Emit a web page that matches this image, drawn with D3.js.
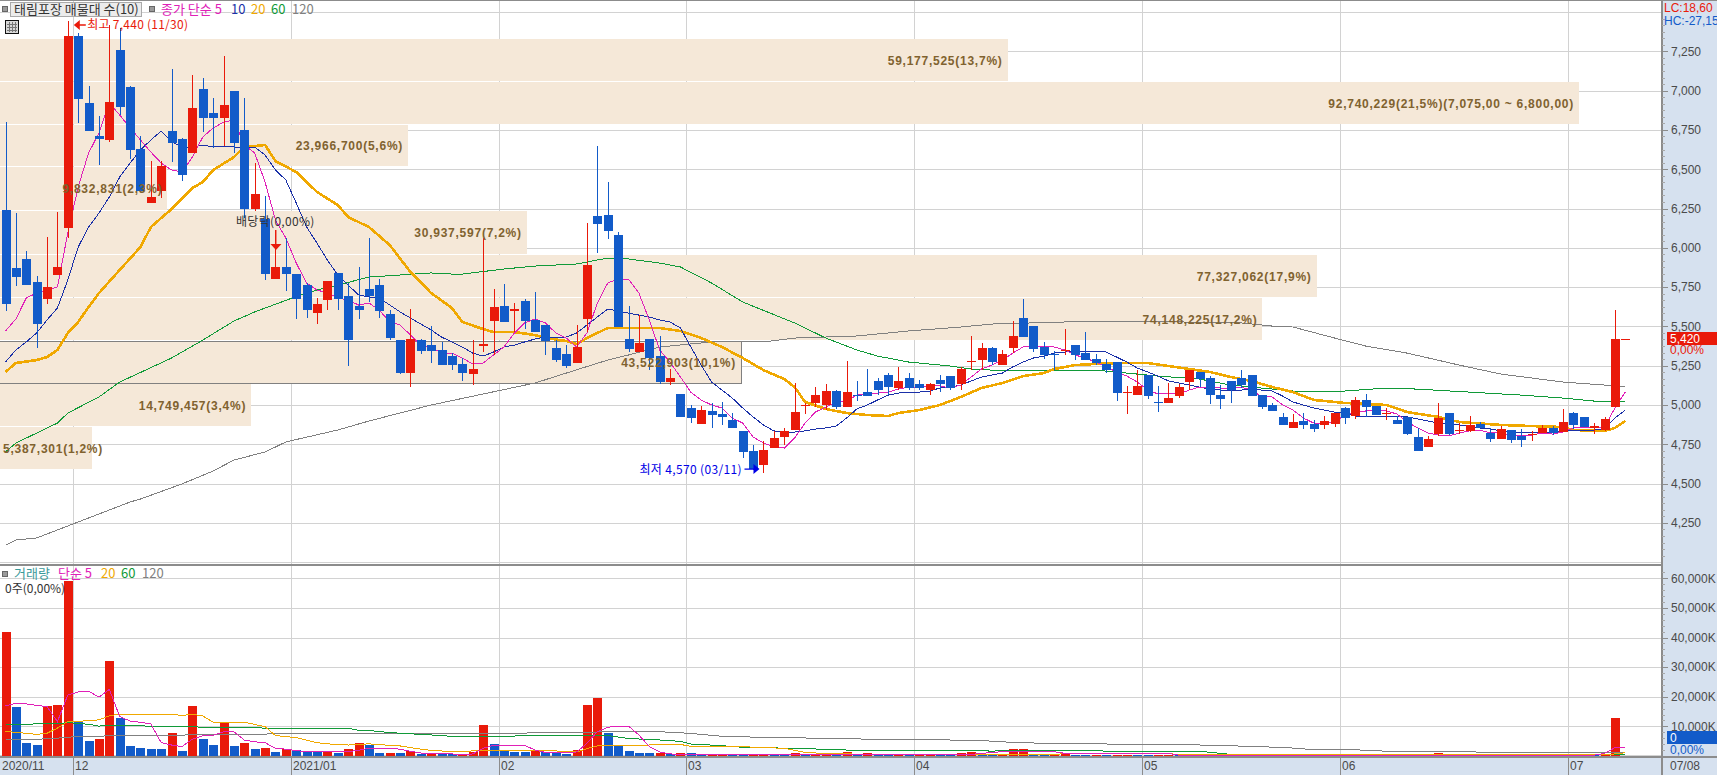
<!DOCTYPE html>
<html><head><meta charset="utf-8">
<script src="https://cdn.jsdelivr.net/npm/d3@7"></script>
<style>
html,body{margin:0;padding:0;background:#fff;overflow:hidden}
svg{display:block}
text{font-family:"Liberation Sans","Noto Sans CJK KR",sans-serif;font-size:12px}
.ko{font-family:"Noto Sans CJK KR","Liberation Sans",sans-serif}
</style></head><body>
<script>
const title="태림포장 매물대 수(10)";
const priceLegend=[["종가 단순 5","#e020b8",161],["10","#1a30a8",231],["20","#f0a800",251],["60","#109a38",271],["120","#808080",292]];
const volLegend=[["거래량","#3a9a9a",14],["단순 5","#e020b8",58],["20","#f0a800",101],["60","#109a38",121],["120","#808080",142]];
const priceTicks=[7250,7000,6750,6500,6250,6000,5750,5500,5250,5000,4750,4500,4250];
const extraPriceGrid=[7500,4000];
const volTicks=[60000,50000,40000,30000,20000,10000];
const monthStarts=[7,28,48,66,88,110,129,151];
const monthLabels=["12","2021/01","02","03","04","05","06","07"];
const bandEdges=[7328,7055,6781,6514,6234,5954,5681,5407,5134,4860,4586];
const bandVolumes=[59177525,92740229,23966700,9832831,30937597,77327062,74148225,43522903,14749457,5387301];
const bandLabels=["59,177,525(13,7%)","92,740,229(21,5%)(7,075,00 ~ 6,800,00)","23,966,700(5,6%)","9,832,831(2,3%)","30,937,597(7,2%)","77,327,062(17,9%)","74,148,225(17,2%)","43,522,903(10,1%)","14,749,457(3,4%)","5,387,301(1,2%)"];
const maxBand=7;

const opens=[6240,5871,5929,5782,5674,5827,6126,7347,6921,6711,
6686,7258,7023,6628,6285,6361,6743,6692,6603,7010,
6857,6825,6997,6749,6247,6183,5801,5878,5833,5763,
5585,5668,5840,5693,5630,5738,5763,5579,5413,5203,
5413,5381,5350,5311,5261,5197,5376,5534,5630,5598,
5661,5540,5509,5362,5324,5267,5547,6202,6208,6081,
5420,5337,5420,5311,5146,5070,4981,4879,4962,4943,
4905,4835,4707,4618,4726,4796,4841,4998,5013,5000,
5089,4987,5065,5082,5153,5191,5108,5172,5134,5095,
5159,5184,5134,5278,5286,5362,5254,5362,5553,5502,
5369,5326,5348,5381,5330,5292,5261,5273,5080,5063,
5191,5021,5013,5057,5146,5210,5172,5063,5153,5172,
5191,5063,5000,4924,4854,4898,4879,4873,4879,4981,
4930,5032,4994,4947,4905,4924,4796,4733,4815,4949,
4839,4835,4879,4822,4784,4841,4803,4813,4822,4854,
4828,4949,4924,4854,4841,4987,5420];
const highs=[6800,6221,5980,5821,6069,6228,7440,7366,7029,6838,
7417,7398,7029,6711,6552,6552,7137,6698,7099,7080,
6953,7220,6997,6953,6539,6329,6113,6062,5833,5776,
5680,5789,5840,5776,5878,6062,5801,5604,5413,5610,
5420,5502,5401,5330,5299,5413,6062,5738,5770,5649,
5674,5719,5509,5413,5381,5509,6158,6647,6418,6100,
5630,5572,5420,5439,5229,5070,5000,4994,5013,5019,
4949,4835,4745,4771,4835,4854,5140,5013,5114,5133,
5095,5280,5153,5229,5172,5203,5242,5203,5159,5140,
5191,5184,5242,5439,5394,5369,5350,5534,5674,5502,
5401,5343,5483,5381,5464,5324,5292,5273,5121,5222,
5191,5121,5140,5134,5222,5210,5184,5127,5153,5222,
5191,5063,5013,4949,4943,4949,4905,4930,4949,4987,
5051,5070,4994,4981,4930,4924,4854,4803,5013,4949,
4885,4930,4892,4854,4866,4841,4847,4835,4873,4866,
4975,4955,4924,4885,4924,5604,5420];
const lows=[5598,5757,5763,5362,5642,5827,6062,6794,6743,6526,
6673,6844,6565,6361,6285,6317,6546,6425,6603,6736,
6635,6647,6603,6189,6234,5795,5801,5725,5547,5553,
5515,5604,5604,5248,5547,5655,5553,5413,5197,5114,
5324,5267,5254,5222,5153,5127,5337,5318,5528,5464,
5483,5464,5318,5273,5235,5267,5464,5967,6056,5496,
5337,5337,5222,5133,5127,4924,4885,4879,4854,4873,
4854,4663,4587,4570,4726,4745,4841,4943,4987,4968,
4975,4987,5025,5057,5063,5063,5095,5095,5095,5063,
5082,5095,5095,5222,5222,5254,5254,5330,5432,5337,
5292,5222,5318,5286,5286,5254,5203,5025,4943,5063,
5038,4955,5013,5044,5095,5114,5006,4975,5013,5108,
5057,4975,4962,4873,4854,4847,4828,4847,4860,4879,
4911,4924,4936,4905,4879,4809,4707,4733,4803,4809,
4815,4828,4854,4765,4784,4758,4733,4771,4822,4809,
4828,4847,4860,4815,4835,4987,5420];
const closes=[5642,5814,5763,5515,5750,5878,7347,6946,6743,6692,
6927,6895,6622,6361,6323,6520,6666,6463,6889,6825,
6825,6908,6666,6247,6342,5833,5878,5833,5674,5604,
5642,5789,5674,5413,5604,5693,5598,5426,5203,5420,
5343,5343,5254,5254,5203,5229,5385,5623,5528,5610,
5534,5464,5407,5286,5248,5369,5890,6151,6107,5496,
5356,5394,5299,5146,5172,4924,4917,4968,4936,4924,
4854,4701,4593,4714,4790,4835,4955,5002,5063,5089,
4987,5082,5061,5057,5095,5115,5153,5108,5108,5134,
5134,5108,5229,5282,5362,5273,5324,5439,5432,5356,
5318,5322,5352,5318,5286,5267,5222,5076,5084,5121,
5057,5017,5044,5114,5222,5165,5063,5038,5095,5127,
5057,4987,4962,4873,4892,4873,4847,4898,4949,4917,
5032,4987,4936,4951,4879,4815,4707,4784,4917,4815,
4843,4873,4854,4784,4847,4777,4777,4817,4854,4822,
4892,4873,4860,4866,4911,5420,5420];

const ma5=[5471,5547,5681,5712,5732,5751,6094,6387,6603,6730,
6921,6845,6762,6686,6609,6539,6495,6482,6577,6705,
6762,6800,6813,6654,6603,6418,6177,6062,5903,5776,
5732,5712,5681,5668,5636,5649,5604,5528,5509,5445,
5381,5369,5330,5330,5299,5261,5267,5318,5369,5458,
5522,5547,5522,5458,5426,5369,5458,5649,5776,5801,
5801,5712,5541,5350,5273,5178,5082,5032,5000,4981,
4917,4885,4796,4758,4733,4726,4790,4885,4955,4987,
5019,5025,5063,5070,5076,5082,5101,5114,5114,5121,
5121,5108,5127,5178,5229,5254,5286,5330,5369,5369,
5375,5369,5350,5318,5299,5273,5242,5210,5184,5146,
5095,5070,5070,5070,5095,5114,5114,5108,5101,5114,
5095,5051,5051,5000,4968,4917,4885,4879,4892,4936,
4949,4962,4968,4962,4943,4892,4854,4822,4809,4803,
4822,4835,4841,4822,4822,4809,4809,4809,4822,4815,
4828,4854,4860,4860,4860,4981,5082];
const ma10=[5273,5350,5401,5458,5541,5617,5795,6005,6132,6221,
6323,6450,6539,6622,6686,6743,6673,6641,6641,6654,
6641,6647,6641,6641,6641,6590,6495,6431,6285,6132,
6030,5922,5827,5763,5700,5687,5681,5636,5592,5553,
5515,5477,5432,5401,5369,5330,5311,5337,5369,5381,
5401,5420,5432,5432,5432,5458,5509,5560,5610,5598,
5585,5572,5560,5541,5528,5490,5369,5254,5146,5095,
5044,4981,4924,4873,4835,4828,4828,4835,4847,4854,
4866,4917,4975,5000,5032,5063,5076,5082,5082,5089,
5108,5114,5127,5153,5178,5191,5203,5242,5273,5299,
5311,5330,5337,5343,5343,5343,5337,5305,5273,5235,
5210,5184,5153,5140,5127,5114,5101,5095,5095,5095,
5101,5095,5089,5057,5019,5000,4981,4968,4955,4949,
4930,4924,4924,4924,4924,4924,4911,4898,4885,4879,
4873,4866,4854,4847,4835,4828,4822,4828,4828,4828,
4835,4835,4835,4841,4847,4917,4968];
const ma20=[[0,5210],[1,5267],[3,5286],[4,5305],[5,5350],[6,5458],[7,5528],[8,5623],[9,5712],[11,5859],[13,6005],[14,6132],[16,6247],[18,6380],[19,6418],[20,6495],[22,6577],[23,6641],[25,6654],[26,6552],[28,6482],[30,6355],[32,6272],[33,6196],[35,6132],[37,6018],[39,5846],[41,5712],[43,5617],[44,5528],[46,5483],[47,5464],[49,5464],[51,5445],[52,5426],[54,5407],[55,5388],[56,5426],[57,5458],[58,5490],[60,5490],[63,5490],[65,5471],[67,5426],[69,5369],[71,5299],[73,5222],[75,5165],[76,5114],[77,5019],[79,4975],[81,4949],[83,4936],[85,4930],[86,4949],[88,4968],[90,5000],[92,5051],[94,5108],[96,5140],[98,5184],[100,5203],[101,5229],[103,5254],[105,5261],[108,5267],[110,5267],[112,5248],[114,5229],[116,5210],[118,5178],[120,5153],[122,5114],[124,5082],[126,5032],[129,5013],[133,5000],[135,4955],[138,4924],[140,4892],[144,4873],[147,4866],[150,4860],[151,4841],[154,4835],[155,4854],[156,4898]];
const ma60=[[0,4701],[1,4758],[5,4885],[6,4949],[9,5051],[11,5146],[16,5299],[19,5413],[22,5534],[24,5592],[28,5690],[30,5732],[32,5763],[35,5814],[41,5840],[43,5833],[44,5833],[48,5865],[51,5884],[55,5897],[58,5935],[60,5929],[63,5903],[65,5878],[68,5776],[71,5655],[76,5522],[79,5426],[82,5350],[84,5311],[87,5273],[91,5248],[93,5229],[95,5222],[105,5222],[108,5203],[111,5184],[115,5165],[118,5127],[120,5114],[124,5089],[129,5089],[133,5108],[136,5101],[141,5082],[146,5063],[150,5044],[153,5025],[156,5019]];
const ma120=[[0,4109],[1,4141],[3,4154],[5,4205],[7,4256],[8,4281],[12,4383],[13,4402],[17,4498],[20,4580],[22,4650],[25,4701],[27,4765],[32,4841],[35,4898],[41,5000],[51,5140],[54,5203],[58,5286],[60,5318],[63,5369],[68,5401],[73,5401],[76,5426],[82,5439],[87,5471],[92,5496],[95,5515],[102,5528],[108,5534],[119,5522],[122,5502],[124,5496],[128,5426],[131,5375],[135,5330],[140,5254],[144,5197],[150,5146],[154,5127],[156,5114]];

const volumes=[41900,16600,4400,3700,16900,17200,59200,11500,5100,5700,
32100,12800,3400,2700,2400,2400,7800,1700,16900,5700,
3700,11200,3400,4400,2400,2700,1400,2300,1900,1500,
1400,1600,1100,2400,4400,3700,1000,1050,1000,1700,
800,1000,800,780,450,1500,10500,4100,1700,1400,
1400,1700,1400,1000,800,2000,17200,19600,7800,3400,
1700,1000,1000,1050,700,900,900,300,350,350,
300,300,350,350,300,300,1000,300,560,400,
300,1350,300,1000,300,300,350,300,350,350,
300,300,1000,1460,400,350,700,2250,2250,680,
680,680,680,400,350,350,300,350,350,300,
300,350,350,300,350,300,300,350,300,350,
300,350,300,350,300,350,300,350,300,350,
300,350,300,350,300,350,300,350,1000,350,
350,300,350,300,350,300,350,300,350,300,
350,300,350,300,350,12850,0];
const volFlags="RBBBRRRBBR"+"RBBBBBRBRB"+"BRBRBRBRBB"+"BRBRRBBRBR"+"BRBBRRRBBB"+"BRBBBRRRBB"+"BBBRBRBBRR"+"BBRRBBRBRR"+"BRBRBBRBRR"+"BBRRBBRRRB"+"BRRBBRBRRB"+"BRRBRBRRBR"+"BRBRBRBRBR"+"BRBRBRBRRB"+"RBRBRBRBRB"+"RBRBRRR";
const volMa5=[[0,16900],[1,17800],[2,17600],[3,17100],[4,16700],[5,11600],[6,20600],[7,21600],[8,21900],[9,19900],[10,22500],[11,13300],[12,11800],[13,11400],[14,10800],[15,4500],[16,3700],[17,3200],[18,5700],[19,6800],[20,7000],[21,8200],[22,8200],[23,5400],[24,4800],[25,4500],[26,2600],[27,2300],[28,1800],[29,1500],[30,1500],[31,1400],[32,1400],[33,1500],[34,1900],[35,2600],[37,2600],[38,2300],[39,1600],[40,1000],[41,900],[42,800],[43,700],[44,450],[45,700],[46,2600],[47,3600],[50,3600],[51,2000],[52,1200],[54,1200],[55,1350],[56,4300],[57,8200],[58,9700],[59,10100],[60,10100],[61,7100],[62,3200],[63,1350],[64,700],[65,560],[67,560],[93,560],[94,900],[96,1460],[101,1460],[102,900],[112,900],[113,300],[153,300],[154,900],[155,2800],[156,2930]];
const volMa20=[[0,8300],[1,8000],[3,7300],[4,7700],[5,9400],[6,11700],[7,11700],[9,12200],[10,13600],[11,14100],[16,14100],[17,13700],[18,14100],[19,13500],[20,11400],[23,11400],[25,9900],[26,6900],[28,6200],[30,4500],[31,4100],[33,3700],[35,4100],[37,3600],[38,3400],[40,2300],[41,1900],[43,1500],[45,1700],[53,1700],[55,1350],[56,2500],[57,3400],[65,3900],[66,3270],[70,3270],[75,2590],[77,1240],[79,790],[84,560],[96,340],[101,340],[102,900],[112,900],[113,400],[150,340],[154,340],[156,1100]];
const volMa60=[[0,10600],[2,10600],[3,10900],[5,10800],[6,11300],[8,10700],[9,10100],[10,10300],[18,9900],[19,9700],[24,9600],[25,9400],[33,9400],[34,8700],[35,8600],[37,7900],[40,7300],[41,7100],[43,6650],[58,6900],[60,5900],[63,5400],[65,4950],[66,4050],[69,3490],[71,2930],[76,2590],[79,2250],[82,1900],[94,1900],[95,1580],[96,1900],[105,1900],[106,1580],[115,1580],[116,1240],[117,900],[118,560],[156,560]];
const volMa120=[[0,5500],[3,5500],[4,6000],[5,6000],[6,6400],[9,6500],[10,7000],[17,7000],[18,7300],[41,7700],[50,7700],[51,8000],[63,8200],[64,8000],[66,7650],[67,7300],[68,6980],[69,6640],[73,6300],[79,5970],[84,5630],[94,5300],[95,4950],[97,4620],[100,4280],[109,3940],[118,3600],[119,3270],[123,2930],[126,2140],[130,2140],[131,1900],[132,1900],[133,1500],[141,1500],[142,1240],[156,1240]];

const RED="#e91a0a",BLUE="#125bc9",GRID="#d2d2d2",AXIS="#8c8c8c",PANEL="#d6e1ef",BAND="#f5e8d8",BANDTEXT="#80622f",AXTEXT="#4a4a4a";
const W=1717,H=775,PR=1662,VB=757;
const x=d3.scaleLinear().domain([0,156]).range([5.5,1625.3]);
const y=d3.scaleLinear().domain([4750,7250]).range([444.3,51.3]);
const v=d3.scaleLinear().domain([0,60000]).range([756,578.3]);
const bw=d3.scaleLinear().domain([0,92740229]).range([0,1579]);
const px=i=>Math.round(x(i));

const svg=d3.select("body").append("svg").attr("width",W).attr("height",H);
svg.append("rect").attr("width",W).attr("height",H).attr("fill","#fff");

// grid
const gridG=svg.append("g").attr("shape-rendering","crispEdges").attr("stroke",GRID);
gridG.selectAll(".h").data(priceTicks.concat(extraPriceGrid)).join("line").attr("x1",0).attr("x2",PR).attr("y1",d=>Math.round(y(d))).attr("y2",d=>Math.round(y(d)));
gridG.selectAll(".hv").data(volTicks).join("line").attr("x1",0).attr("x2",PR).attr("y1",d=>Math.round(v(d))).attr("y2",d=>Math.round(v(d)));
gridG.append("line").attr("x1",0).attr("x2",PR).attr("y1",755).attr("y2",755);
gridG.selectAll(".m").data(monthStarts).join("line").attr("x1",d=>Math.round(x(d-0.5))).attr("x2",d=>Math.round(x(d-0.5))).attr("y1",1).attr("y2",VB);

// volume-profile bands
const bands=bandVolumes.map((b,k)=>({b,k,lab:bandLabels[k],t:Math.round(y(bandEdges[k])),e:Math.round(y(bandEdges[k+1]))}));
const bandG=svg.append("g").attr("shape-rendering","crispEdges");
bandG.selectAll("rect").data(bands).join("rect").attr("x",0).attr("y",d=>d.t).attr("width",d=>bw(d.b)).attr("height",d=>d.e-d.t-1).attr("fill",BAND);
const mb=bands[maxBand];
bandG.append("path").attr("d",`M0,${mb.t+.5}H${bw(mb.b)+.5}V${mb.e-.5}H0`).attr("fill","none").attr("stroke","#808080");

// lines
const line=(sx,sy)=>d3.line().x(d=>sx(d[0])).y(d=>sy(d[1]));
const dense=a=>a.map((d,i)=>[i,d]);
const pLines=svg.append("g").attr("fill","none").attr("shape-rendering","crispEdges");
[[ma120,"#808080",1],[ma60,"#109a38",1],[ma20,"#f0a800",2.6],[dense(ma10),"#1a30a8",1],[dense(ma5),"#e020b8",1]].forEach(([d,c,w])=>{
  pLines.append("path").attr("d",line(x,y)(d)).attr("stroke",c).attr("stroke-width",w);
});

// candles
const candles=d3.range(opens.length).map(i=>({i,o:opens[i],h:highs[i],l:lows[i],c:closes[i]}));
const cG=svg.append("g").attr("shape-rendering","crispEdges");
const col=d=>d.c>=d.o?RED:BLUE;
cG.selectAll("line").data(candles.filter(d=>d.h>d.l)).join("line").attr("x1",d=>px(d.i)+.5).attr("x2",d=>px(d.i)+.5).attr("y1",d=>Math.round(y(d.h))).attr("y2",d=>Math.round(y(d.l))).attr("stroke",col);
cG.selectAll("rect").data(candles).join("rect").attr("x",d=>px(d.i)-4).attr("width",9)
  .attr("y",d=>Math.round(y(Math.max(d.o,d.c))))
  .attr("height",d=>Math.max(1,Math.round(y(Math.min(d.o,d.c)))-Math.round(y(Math.max(d.o,d.c)))))
  .attr("fill",col);

// band labels
const lbG=svg.append("g").attr("fill",BANDTEXT).attr("text-anchor","end");
lbG.selectAll("text").data(bands).join("text").attr("x",d=>Math.max(bw(d.b)-5,103)).attr("y",d=>(d.t+d.e)/2+4).style("font-weight","bold").style("letter-spacing","0.75px").text(d=>d.lab);

// volume bars
const vG=svg.append("g").attr("shape-rendering","crispEdges");
vG.selectAll("rect").data(volumes.map((d,i)=>({d,i}))).join("rect").attr("x",d=>px(d.i)-4).attr("width",9).attr("y",d=>Math.round(v(d.d))).attr("height",d=>Math.round(v(0))-Math.round(v(d.d))).attr("fill",d=>volFlags[d.i]==="R"?RED:BLUE);
const vLines=svg.append("g").attr("fill","none").attr("shape-rendering","crispEdges");
[[volMa120,"#808080"],[volMa60,"#109a38"],[volMa20,"#f0a800"],[volMa5,"#e020b8"]].forEach(([d,c])=>{
  vLines.append("path").attr("d",line(x,v)(d)).attr("stroke",c);
});

// right & bottom panels
svg.append("rect").attr("x",PR).attr("y",1).attr("width",W-PR).attr("height",H).attr("fill",PANEL);
svg.append("rect").attr("x",0).attr("y",VB).attr("width",W).attr("height",H-VB).attr("fill",PANEL);
const fr=svg.append("g").attr("shape-rendering","crispEdges").attr("stroke",AXIS);
fr.append("line").attr("x1",0).attr("x2",W).attr("y1",0.5).attr("y2",0.5).attr("stroke-width",1);
fr.append("line").attr("x1",0).attr("x2",PR).attr("y1",565).attr("y2",565).attr("stroke-width",1.5);
fr.append("line").attr("x1",0).attr("x2",W).attr("y1",757).attr("y2",757).attr("stroke-width",1.5);
fr.append("line").attr("x1",PR).attr("x2",PR).attr("y1",0).attr("y2",H).attr("stroke-width",1.5);

// axes
const pAxis=d3.axisRight(y).tickValues(priceTicks).tickFormat(d3.format(",")).tickSize(6).tickPadding(3);
const gP=svg.append("g").attr("transform",`translate(${PR},0)`).call(pAxis);
const vAxis=d3.axisRight(v).tickValues(volTicks).tickFormat(d=>d3.format(",")(d)+"K").tickSize(6).tickPadding(3);
const gV=svg.append("g").attr("transform",`translate(${PR},0)`).call(vAxis);
[gP,gV].forEach(g=>{g.select(".domain").remove();g.selectAll("line").attr("stroke",AXIS).attr("shape-rendering","crispEdges");g.selectAll("text").attr("fill",AXTEXT).style("font-size","12px");});
// minor ticks
const minorP=[];priceTicks.concat([7500,4000]).forEach(t=>{for(let k=1;k<6;k++){const m=t-k*250/6;if(m>3990&&y(m)>5&&y(m)<563)minorP.push(m);}});
const minorV=[];[70000,60000,50000,40000,30000,20000,10000].forEach(t=>{for(let k=1;k<5;k++){minorV.push(t-k*2000);}});
const mG=svg.append("g").attr("shape-rendering","crispEdges").attr("stroke","#a8a8a8");
mG.selectAll(".p").data(minorP).join("line").attr("x1",PR).attr("x2",PR+3).attr("y1",d=>Math.round(y(d))).attr("y2",d=>Math.round(y(d)));
mG.selectAll(".v").data(minorV.filter(d=>v(d)>568)).join("line").attr("x1",PR).attr("x2",PR+3).attr("y1",d=>Math.round(v(d))).attr("y2",d=>Math.round(v(d)));

// month ticks and labels
const xG=svg.append("g");
xG.selectAll("line").data(monthStarts).join("line").attr("shape-rendering","crispEdges").attr("x1",d=>Math.round(x(d-0.5))).attr("x2",d=>Math.round(x(d-0.5))).attr("y1",VB).attr("y2",H).attr("stroke",AXIS);
xG.selectAll("text").data(monthLabels).join("text").attr("x",(d,k)=>Math.round(x(monthStarts[k]-0.5))+2).attr("y",770).attr("fill",AXTEXT).text(d=>d);
xG.append("text").attr("x",2).attr("y",770).attr("fill",AXTEXT).text("2020/11");
xG.append("text").attr("x",1670).attr("y",770).attr("fill",AXTEXT).text("07/08");

// value tags
const lastClose=closes[closes.length-1],lastVol=volumes[volumes.length-1];
const tags=svg.append("g");
tags.append("rect").attr("x",1667).attr("y",Math.round(y(lastClose))-7).attr("width",50).attr("height",13).attr("fill",RED).attr("shape-rendering","crispEdges");
tags.append("text").attr("x",1670).attr("y",y(lastClose)+4).attr("fill","#fff").text(d3.format(",")(lastClose));
tags.append("text").attr("x",1670).attr("y",y(lastClose)+15).attr("fill",RED).text("0,00%");
tags.append("rect").attr("x",1667).attr("y",731).attr("width",50).attr("height",13).attr("fill",BLUE).attr("shape-rendering","crispEdges");
tags.append("text").attr("x",1670).attr("y",742).attr("fill","#fff").text(lastVol);
tags.append("text").attr("x",1670).attr("y",754).attr("fill",BLUE).text("0,00%");
tags.append("text").attr("x",1664).attr("y",12).attr("fill",RED).text("LC:18,60");
tags.append("text").attr("x",1664).attr("y",25).attr("fill",BLUE).text("HC:-27,15");

// legends
const sq=(g,xx,yy)=>g.append("rect").attr("x",xx-2.5).attr("y",yy-2.5).attr("width",5).attr("height",5).attr("fill","#9a9a9a").attr("stroke","#666").attr("shape-rendering","crispEdges");
const lg=svg.append("g");
sq(lg,5,9);
lg.append("rect").attr("x",10.5).attr("y",2.5).attr("width",131).attr("height",14).attr("fill","#ececec").attr("stroke","#aaa").attr("shape-rendering","crispEdges");
lg.append("text").attr("class","ko").attr("x",14).attr("y",14).attr("fill","#333").style("font-size","13px").text(title);
sq(lg,152,9);
lg.selectAll(".pl").data(priceLegend).join("text").attr("class","ko").attr("x",d=>d[2]).attr("y",14).attr("fill",d=>d[1]).style("font-size","13px").text(d=>d[0]);
sq(lg,5,574);
lg.selectAll(".vl").data(volLegend).join("text").attr("class","ko").attr("x",d=>d[2]).attr("y",578).attr("fill",d=>d[1]).style("font-size","13px").text(d=>d[0]);
lg.append("text").attr("class","ko").attr("x",5).attr("y",593).attr("fill","#333").style("font-size","12px").text("0주(0,00%)");

// table icon
const ic=svg.append("g").attr("shape-rendering","crispEdges");
ic.append("rect").attr("x",5.5).attr("y",20.5).attr("width",13).attr("height",13).attr("fill","#d8d8d8").attr("stroke","#111");
ic.append("path").attr("d","M7,24H17M7,27H17M7,30H17M9,22V32M12,22V32M15,22V32").attr("stroke","#777").attr("fill","none");

// annotations
const ann=svg.append("g");
const hiI=highs.indexOf(d3.max(highs)),loI=lows.indexOf(d3.min(lows));
const hiX=x(hiI),hiY=y(highs[hiI])+3.5;
ann.append("path").attr("d",`M${hiX+6},${hiY}L${hiX+12},${hiY-5}V${hiY-.7}H${hiX+18}V${hiY+.7}H${hiX+12}V${hiY+5}Z`).attr("fill",RED);
ann.append("text").attr("class","ko").attr("x",hiX+19.5).attr("y",hiY+4.5).attr("fill",RED).style("font-size","12px").style("letter-spacing","0.25px").text("최고 7,440 (11/30)");
const loX=x(loI),loY=y(lows[loI])-3.5;
ann.append("text").attr("class","ko").attr("x",loX-124).attr("y",loY+4.5).attr("fill","#0000e6").style("font-size","12px").style("letter-spacing","0.35px").text("최저 4,570 (03/11)");
ann.append("path").attr("d",`M${loX-19},${loY-.7}H${loX-10}V${loY-5}L${loX-4},${loY}L${loX-10},${loY+5}V${loY+.7}H${loX-19}Z`).attr("fill","#0000e6");
ann.append("text").attr("class","ko").attr("x",236).attr("y",226).attr("fill","#333").style("font-size","12px").style("letter-spacing","0.3px").text("배당락(0,00%)");
const dvX=x(26);
ann.append("path").attr("d",`M${dvX+.5},230V245`).attr("stroke",RED);
ann.append("path").attr("d",`M${dvX-5},244H${dvX+6}L${dvX+.5},250Z`).attr("fill",RED);
</script>
</body></html>
